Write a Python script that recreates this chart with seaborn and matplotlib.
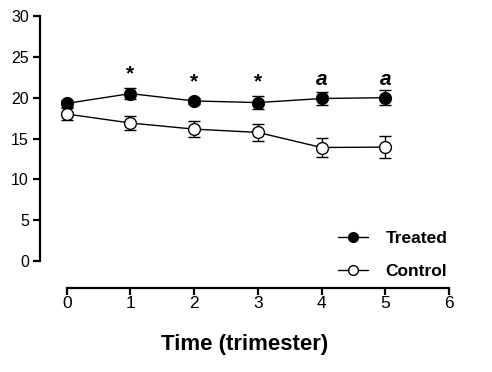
import matplotlib

matplotlib.use("Agg")

import matplotlib.pyplot as plt
import pandas as pd
import seaborn as sns

# values
time = [0, 1, 2, 3, 4, 5]
treated_mean = [19.3, 20.5, 19.6, 19.4, 19.9, 20.0]
treated_err = [0.4, 0.7, 0.4, 0.75, 0.75, 0.95]
control_mean = [18.0, 16.9, 16.15, 15.75, 13.9, 13.95]
control_err = [0.7, 0.85, 1.0, 1.05, 1.15, 1.35]
sig_labels = ["", "*", "*", "*", "a", "a"]
sig_y = [None, 22.9, 21.9, 21.9, 22.2, 22.2]

data = pd.DataFrame(
    {
        "time": time * 2,
        "value": treated_mean + control_mean,
        "group": ["Treated"] * len(time) + ["Control"] * len(time),
    }
)

sns.set_theme(style="ticks")
plt.rcParams["font.family"] = ["Liberation Sans", "DejaVu Sans"]
plt.rcParams["text.color"] = "black"
plt.rcParams["axes.labelcolor"] = "black"

fig = plt.figure(figsize=(4.92, 3.72), dpi=100)
ax = fig.add_axes([40 / 492, 84 / 372, 409 / 492, 272 / 372])

# error bars first so the markers sit on top
ax.errorbar(time, treated_mean, yerr=treated_err, fmt="none", ecolor="black",
            elinewidth=1.0, capsize=4, capthick=1.0, zorder=2)
ax.errorbar(time, control_mean, yerr=control_err, fmt="none", ecolor="black",
            elinewidth=1.0, capsize=4, capthick=1.0, zorder=2)

sns.lineplot(
    data=data, x="time", y="value", hue="group", style="group",
    palette={"Treated": "black", "Control": "black"},
    markers={"Treated": "o", "Control": "o"}, dashes=False,
    linewidth=1.0, markersize=8.5, markeredgecolor="black", markeredgewidth=1.0,
    ax=ax, zorder=3,
)
for line in ax.get_lines():
    if list(line.get_ydata()) == control_mean:
        line.set_markerfacecolor("white")

for x, lab, y in zip(time, sig_labels, sig_y):
    if not lab:
        continue
    if lab == "*":
        ax.text(x, y, lab, ha="center", va="center", fontsize=15, fontweight="bold")
    else:
        ax.text(x, y, lab, ha="center", va="center", fontsize=15,
                fontweight="bold", fontstyle="italic")

ax.set_xlim(-0.42, 6)
ax.set_ylim(-3.3, 30)
ax.set_xticks(range(0, 7))
ax.set_yticks(range(0, 31, 5))
ax.spines["left"].set_bounds(0, 30)
ax.spines["bottom"].set_bounds(0, 6)
sns.despine(ax=ax)
for s in ("left", "bottom"):
    ax.spines[s].set_linewidth(1.6)
    ax.spines[s].set_color("black")
ax.tick_params(direction="out", length=5, width=1.6, colors="black")
ax.tick_params(axis="y", labelsize=11.5, pad=3)
ax.tick_params(axis="x", labelsize=12.5, pad=1)
ax.set_xlabel("Time (trimester)", fontsize=16, fontweight="bold", labelpad=16)
ax.set_ylabel("")

handles, labels = ax.get_legend_handles_labels()
for h, l in zip(handles, labels):
    h.set_color("black")
    h.set_markeredgecolor("black")
    h.set_markersize(7)
    h.set_markerfacecolor("white" if l == "Control" else "black")
ax.legend(handles, labels, loc="upper left", bbox_to_anchor=(298 / 409, 57 / 272),
          frameon=False, borderpad=0, borderaxespad=0, handlelength=1.75,
          handletextpad=1.0, labelspacing=1.0,
          prop={"weight": "bold", "size": 12.5})

fig.savefig("out.png", dpi=100)
